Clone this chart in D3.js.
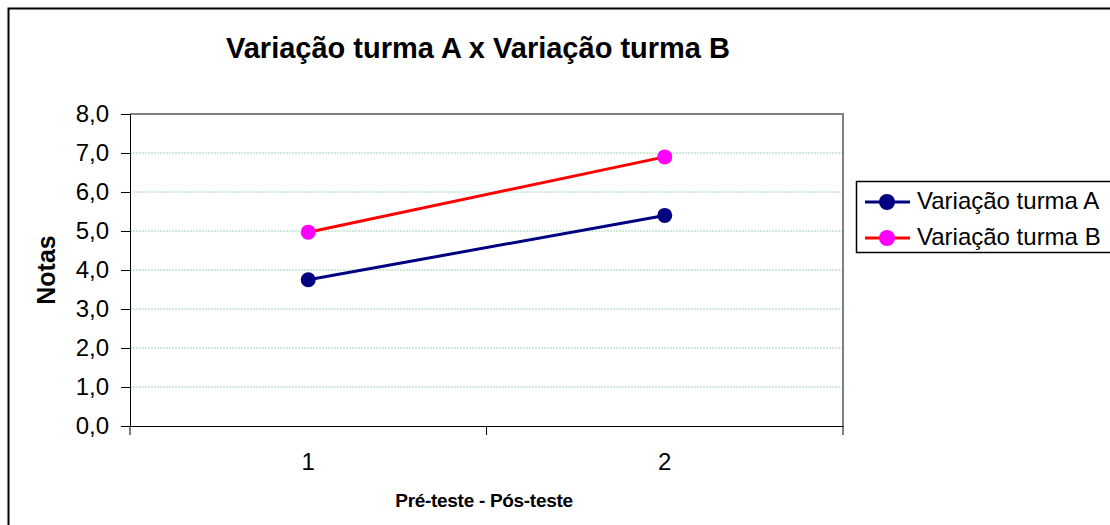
<!DOCTYPE html>
<html>
<head>
<meta charset="utf-8">
<style>
    body { margin: 0; background: #fff; }
    svg { display: block; font-family: 'Liberation Sans', Arial, sans-serif; }
    .y .domain, .x .domain { stroke: #000; }
    .y .tick line, .x .tick line { stroke: #000; }
    .y .tick text, .x .tick text { font-size: 24px; fill: #000; font-family: 'Liberation Sans', Arial, sans-serif; }
    .grid line { stroke: #9fd6b6; stroke-dasharray: 2 1; }
</style>
</head>
<body>
<svg width="1110" height="525"></svg>
<script src="https://d3js.org/d3.v7.min.js"></script>
<script>
    let categories = ["1", "2"]
    let turmaA = [3.75, 5.4]
    let turmaB = [4.97, 6.9]
    let yTicks = [0, 1, 2, 3, 4, 5, 6, 7, 8]

    let svg = d3.select("svg")
    let margin = { top: 114, right: 267, bottom: 99, left: 130 }
    let width = 1110, height = 525

    // outer frame
    svg.append("rect")
        .attr("x", 8.5).attr("y", 8.5)
        .attr("width", 1120).attr("height", 540)
        .attr("fill", "none").attr("stroke", "#000").attr("stroke-width", 2)

    let x = d3.scaleBand()
        .domain(categories)
        .range([margin.left, width - margin.right])

    let y = d3.scaleLinear()
        .domain([0, 8])
        .range([height - margin.bottom, margin.top])

    // gridlines
    svg.append("g").attr("class", "grid")
        .selectAll("line")
        .data(yTicks.slice(1, -1))
        .join("line")
        .attr("x1", margin.left).attr("x2", width - margin.right)
        .attr("y1", d => y(d)).attr("y2", d => y(d))

    // plot area border top/right
    svg.append("path")
        .attr("d", `M${margin.left},${y(8)}H${width - margin.right}V${y(0)}`)
        .attr("fill", "none").attr("stroke", "#808080").attr("stroke-width", 2)

    let yAxis = svg.append("g")
        .attr("class", "y")
        .attr("transform", `translate(${margin.left},0)`)
        .call(d3.axisLeft(y).tickValues(yTicks).tickSize(9).tickPadding(12)
            .tickFormat(d => d3.format(".1f")(d).replace(".", ",")))

    let xAxis = svg.append("g")
        .attr("class", "x")
        .attr("transform", `translate(0,${y(0)})`)
        .call(d3.axisBottom(x).tickSize(0).tickPadding(27))

    // ticks between categories
    let bounds = [margin.left, margin.left + x.bandwidth(), width - margin.right]
    xAxis.selectAll(".sep")
        .data(bounds)
        .join("line")
        .attr("x1", d => d).attr("x2", d => d)
        .attr("y1", 0).attr("y2", 9)
        .attr("stroke", "#000")

    let cx = d => x(d) + x.bandwidth() / 2

    let series = [
        { name: "Variação turma A", values: turmaA, line: "#000080", dot: "#000080" },
        { name: "Variação turma B", values: turmaB, line: "#ff0000", dot: "#ff00ff" }
    ]

    let line = d3.line()
        .x((d, i) => cx(categories[i]))
        .y(d => y(d))

    series.forEach(s => {
        svg.append("path")
            .attr("d", line(s.values))
            .attr("fill", "none")
            .attr("stroke", s.line)
            .attr("stroke-width", 3)
        svg.append("g").selectAll("circle")
            .data(s.values)
            .join("circle")
            .attr("cx", (d, i) => cx(categories[i]))
            .attr("cy", d => y(d))
            .attr("r", 7.5)
            .attr("fill", s.dot)
    })

    // title
    svg.append("text")
        .attr("x", 478).attr("y", 58)
        .attr("text-anchor", "middle")
        .style("font-size", "29px").style("font-weight", "bold")
        .text("Variação turma A x Variação turma B")

    svg.append("text")
        .attr("transform", `translate(55,${(y(0) + y(8)) / 2}) rotate(-90)`)
        .attr("text-anchor", "middle")
        .style("font-size", "25px").style("font-weight", "bold")
        .text("Notas")

    svg.append("text")
        .attr("x", 484).attr("y", 507)
        .attr("text-anchor", "middle")
        .style("font-size", "19px").style("font-weight", "bold")
        .style("letter-spacing", "-0.3px")
        .text("Pré-teste - Pós-teste")

    // legend
    let legend = svg.append("g")
    legend.append("rect")
        .attr("x", 856.5).attr("y", 181.5)
        .attr("width", 300).attr("height", 71)
        .attr("fill", "#fff").attr("stroke", "#000").attr("stroke-width", 1.5)

    let items = legend.selectAll(".item")
        .data(series)
        .join("g")
        .attr("transform", (d, i) => `translate(0,${202 + i * 36})`)
    items.append("line")
        .attr("x1", 865).attr("x2", 910)
        .attr("stroke", d => d.line).attr("stroke-width", 3)
    items.append("circle")
        .attr("cx", 887).attr("r", 8)
        .attr("fill", d => d.dot)
    items.append("text")
        .attr("x", 917).attr("y", 7)
        .style("font-size", "24px")
        .text(d => d.name)
</script>
</body>
</html>
